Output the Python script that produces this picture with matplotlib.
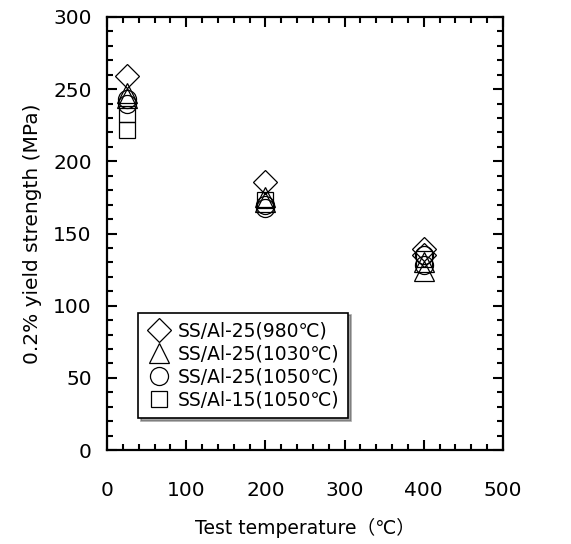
import matplotlib.pyplot as plt
from matplotlib.ticker import MultipleLocator

plt.rcParams['font.family'] = ['DejaVu Sans', 'Noto Sans CJK JP']

# test temperature (C) and 0.2% yield strength (MPa)
t_980 = [25, 200, 400, 400]
ys_980 = [259, 186, 139, 135]

t_1030 = [25, 25, 200, 200, 400, 400]
ys_1030 = [247, 244, 175, 172, 130, 124]

t_1050 = [25, 25, 200, 200, 400, 400]
ys_1050 = [243, 240, 170, 168, 135, 128]

t_15 = [25, 25, 200, 400]
ys_15 = [233, 222, 173, 132]

labels = ['SS/Al-25(980℃)', 'SS/Al-25(1030℃)', 'SS/Al-25(1050℃)', 'SS/Al-15(1050℃)']

fig = plt.figure(figsize=(5.71, 5.44), dpi=100)
ax = fig.add_axes([107/571, 94/544, 396/571, 433/544])

st = dict(linestyle='none', markerfacecolor='none', markeredgecolor='black', markeredgewidth=0.9)
ax.plot(t_980, ys_980, marker='D', markersize=12, label=labels[0], **st)
ax.plot(t_1030, ys_1030, marker='^', markersize=14, label=labels[1], **st)
ax.plot(t_1050, ys_1050, marker='o', markersize=13, label=labels[2], **st)
ax.plot(t_15, ys_15, marker='s', markersize=12, label=labels[3], **st)

ax.set_xlim(0, 500)
ax.set_ylim(0, 300)
ax.xaxis.set_major_locator(MultipleLocator(100))
ax.xaxis.set_minor_locator(MultipleLocator(20))
ax.yaxis.set_major_locator(MultipleLocator(50))
ax.yaxis.set_minor_locator(MultipleLocator(10))
ax.tick_params(which='both', direction='in', top=True, right=True, width=1.5)
ax.tick_params(which='major', length=7, labelsize=14.5)
ax.tick_params(axis='y', which='major', pad=11)
ax.tick_params(axis='x', which='major', pad=22)
ax.tick_params(which='minor', length=4)
for s in ax.spines.values():
    s.set_linewidth(1.6)

ax.set_xlabel('Test temperature（℃）', fontsize=13.5, labelpad=13)
ax.set_ylabel('0.2% yield strength (MPa)', fontsize=14.5, labelpad=8)

leg = ax.legend(loc='lower left', bbox_to_anchor=(0.078, 0.074), fontsize=13.5,
                frameon=True, fancybox=False, shadow=True, edgecolor='black',
                handletextpad=0.4, borderpad=0.45, labelspacing=0.22, handlelength=1.3,
                borderaxespad=0)
leg.get_frame().set_linewidth(1.2)

fig.savefig('out.png', dpi=100)
